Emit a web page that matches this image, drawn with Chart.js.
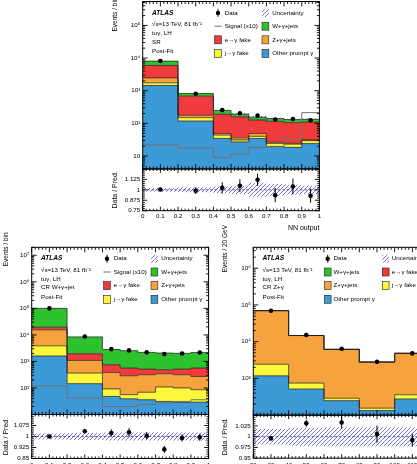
<!DOCTYPE html>
<html><head><meta charset="utf-8"><title>tuγ LH post-fit distributions</title>
<script src="https://cdn.jsdelivr.net/npm/chart.js@4.4.1/dist/chart.umd.min.js"></script>
<style>
html,body{margin:0;padding:0;background:#fff;}
body{position:relative;width:417px;height:464px;overflow:hidden;}
canvas{position:absolute;left:0;top:-10px;}
</style></head><body>
<canvas id="cSR" width="460" height="490"></canvas>
<canvas id="cW" width="460" height="490"></canvas>
<canvas id="cZ" width="460" height="490"></canvas>
<script>
const FONT = '"Liberation Sans", Arial, Helvetica, sans-serif';

// ===== SR (NN output) =====
const srEdges   = [0, 0.2, 0.4, 0.5, 0.6, 0.7, 0.8, 0.9, 1.0];
const srCenters = [0.1, 0.3, 0.45, 0.55, 0.65, 0.75, 0.85, 0.95];
const srPrompt  = [1440, 118, 34.5, 27, 34.5, 19.7, 18.4, 24];
const srJFake   = [300, 32, 9.1, 4, 5.5, 4.6, 4.6, 5.5];
const srZGam    = [730, 26, 5.4, 5, 9, 2.2, 1.5, 1.5];
const srEFake   = [3490, 505, 140, 122, 78, 88.5, 80.5, 79];
const srWGam    = [2100, 137, 60, 35, 28, 25, 26, 23];
const srSignal  = [22, 17.5, 9.1, 11.5, 18.4, 19, 34.5, 213];
const srData    = [8100, 810, 255, 203, 173, 131, 136, 124];
const srRatio   = [1.005, 0.99, 1.024, 1.05, 1.12, 0.936, 1.04, 0.93];
const srRatioErr= [0.012, 0.04, 0.068, 0.076, 0.074, 0.085, 0.095, 0.085];
const srUnc     = [0.022, 0.03, 0.04, 0.05, 0.085, 0.07, 0.06, 0.05];
const srXTicks  = [0, 0.1, 0.2, 0.3, 0.4, 0.5, 0.6, 0.7, 0.8, 0.9, 1];
const srXLabels = ['0','0.1','0.2','0.3','0.4','0.5','0.6','0.7','0.8','0.9','1'];
const srYTicks  = [10, 1e2, 1e3, 1e4, 1e5];
const srRTicks  = [0.75, 0.875, 1, 1.125];
const srRLabels = ['0.75','0.875','1','1.125'];

// ===== CR W+gamma+jet (NN output) =====
const wEdges    = [0, 0.2, 0.4, 0.5, 0.6, 0.7, 0.8, 0.9, 1.0];
const wCenters  = [0.1, 0.3, 0.45, 0.55, 0.65, 0.75, 0.85, 0.95];
const wPrompt   = [1600, 145, 48, 39, 36, 31, 29, 29];
const wJFake    = [2270, 220, 44, 17, 33, 78, 71, 57];
const wZGam     = [11630, 725, 293, 233, 247, 235, 216, 184];
const wEFake    = [4000, 850, 363, 274, 199, 142, 199, 293];
const wWGam     = [80500, 6460, 2082, 1967, 1675, 1584, 1505, 1617];
const wSignal   = [120, 42, 20, 20, 24, 27, 31, 36];
const wData     = [100000, 8700, 2900, 2600, 2200, 1890, 2000, 2170];
const wRatio    = [1.0, 1.036, 1.024, 1.029, 1.005, 0.912, 0.99, 0.995];
const wRatioErr = [0.006, 0.014, 0.025, 0.028, 0.025, 0.024, 0.024, 0.024];
const wUnc      = [0.02, 0.024, 0.027, 0.027, 0.028, 0.028, 0.028, 0.028];
const wXTicks   = [0, 0.1, 0.2, 0.3, 0.4, 0.5, 0.6, 0.7, 0.8, 0.9, 1];
const wXLabels  = ['0','0.1','0.2','0.3','0.4','0.5','0.6','0.7','0.8','0.9','1'];
const wYTicks   = [1e2, 1e3, 1e4, 1e5, 1e6, 1e7];
const wRTicks   = [0.85, 0.925, 1, 1.075];
const wRLabels  = ['0.85','0.925','1','1.075'];

// ===== CR Z+gamma (20 GeV bins) =====
const zEdges    = [20, 40, 60, 80, 100, 120];
const zCenters  = [30, 50, 70, 90, 110];
const zPrompt   = [1175, 515, 248, 133, 276];
const zJFake    = [1255, 231, 40, 22, 84];
const zZGam     = [67300, 13930, 5880, 2630, 4450];
const zEFake    = [150, 40, 18, 9, 15];
const zWGam     = [120, 34, 14, 6, 15];
const zData     = [69700, 15200, 6400, 2820, 4800];
const zRatio    = [0.996, 1.031, 1.033, 1.006, 0.992];
const zRatioErr = [0.003, 0.008, 0.014, 0.02, 0.015];
const zUnc      = [0.018, 0.021, 0.022, 0.022, 0.022];
const zXTicks   = [20, 30, 40, 50, 60, 70, 80, 90, 100, 110, 120];
const zXLabels  = ['20','30','40','50','60','70','80','90','100','110','120'];
const zYTicks   = [1e3, 1e4, 1e5, 1e6];
const zRTicks   = [0.95, 0.975, 1, 1.025];
const zRLabels  = ['0.95','0.975','1','1.025'];

const COL = {prompt:'#3d9ad6', jfake:'#fbf83c', zgam:'#f6a23d', efake:'#ef3b3b', wgam:'#2ec22e'};
const NAMES = {prompt:'Other prompt γ', jfake:'j→γ fake', zgam:'Z+γ+jets', efake:'e→γ fake', wgam:'W+γ+jets'};

Chart.defaults.color = '#000';
Chart.defaults.font.family = FONT;

function stepLine(edges, vals){
  const p = vals.map((v,i)=>({x:edges[i], y:v}));
  p.push({x:edges[edges.length-1], y:vals[vals.length-1]});
  return p;
}
function supLabel(v){
  const e = Math.round(Math.log10(v));
  const sup = {'0':'⁰','1':'¹','2':'²','3':'³','4':'⁴','5':'⁵','6':'⁶','7':'⁷','8':'⁸','9':'⁹'};
  return e === 1 ? '10' : '10' + String(e).split('').map(ch=>sup[ch]).join('');
}
function makeHatch(ctx){
  const s = 4, c = document.createElement('canvas'); c.width = s; c.height = s;
  const g = c.getContext('2d');
  g.strokeStyle = '#6464d8'; g.lineWidth = 0.9;
  g.beginPath();
  g.moveTo(0, s); g.lineTo(s, 0);
  g.moveTo(-1, 1); g.lineTo(1, -1);
  g.moveTo(s-1, s+1); g.lineTo(s+1, s-1);
  g.stroke();
  return ctx.createPattern(c, 'repeat');
}

const LEG_ROWS = [11.4, 24.7, 38.3, 52];
const ANN_ROWS = [23, 31.7, 40.3, 49.5];
const STEP = 'before';

function makeDeco(P, pat){
  return {
    id: 'deco_' + P.id,
    afterDatasetsDraw(chart){
      const c = chart.ctx, xs = chart.scales.x, yr = chart.scales.yr;
      c.save(); c.strokeStyle = '#000'; c.lineWidth = 1;
      c.beginPath();
      P.centers.forEach((cx,i)=>{
        const x = xs.getPixelForValue(cx);
        c.moveTo(x, yr.getPixelForValue(P.ratio[i] - P.ratioErr[i]));
        c.lineTo(x, yr.getPixelForValue(P.ratio[i] + P.ratioErr[i]));
      });
      c.stroke(); c.restore();
    },
    afterDraw(chart){
      const c = chart.ctx, a = chart.chartArea, xs = chart.scales.x, ys = chart.scales.y, yr = chart.scales.yr;
      c.save();
      c.strokeStyle = '#000'; c.lineWidth = 0.9;
      c.beginPath();
      const nx = Math.round((P.xMax - P.xMin) / P.xMinor);
      for (let k = 0; k <= nx; k++){
        const v = P.xMin + k * P.xMinor;
        const x = xs.getPixelForValue(v);
        const major = P.xTicks.some(t => Math.abs(t - v) < 1e-6);
        const L1 = major ? 5 : 2.5, L2 = major ? 4 : 2;
        c.moveTo(x, ys.bottom); c.lineTo(x, ys.bottom - L1);
        c.moveTo(x, ys.top); c.lineTo(x, ys.top + L1);
        c.moveTo(x, yr.bottom); c.lineTo(x, yr.bottom - L2);
        c.moveTo(x, yr.top); c.lineTo(x, yr.top + L2);
      }
      for (let e = Math.floor(Math.log10(P.yMin)); e <= Math.ceil(Math.log10(P.yMax)); e++){
        for (let m = 1; m <= 9; m++){
          const v = m * Math.pow(10, e);
          if (v < P.yMin * 0.999 || v > P.yMax) continue;
          const y = ys.getPixelForValue(v), L = m === 1 ? 5 : 2.5;
          c.moveTo(a.left, y); c.lineTo(a.left + L, y);
          c.moveTo(a.right, y); c.lineTo(a.right - L, y);
        }
      }
      const nr = Math.round((P.rMax - P.rMin) / P.rMinor);
      for (let k = 0; k <= nr; k++){
        const v = P.rMin + k * P.rMinor;
        const q = (v - P.rMin) / P.rMajor;
        const major = Math.abs(q - Math.round(q)) < 1e-6;
        const y = yr.getPixelForValue(v), L = major ? 4.5 : 2.2;
        c.moveTo(a.left, y); c.lineTo(a.left + L, y);
        c.moveTo(a.right, y); c.lineTo(a.right - L, y);
      }
      c.stroke();
      c.lineWidth = 1;
      c.strokeRect(a.left, ys.top, a.right - a.left, ys.bottom - ys.top);
      c.strokeRect(a.left, yr.top, a.right - a.left, yr.bottom - yr.top);

      // main y-axis title (rotated)
      c.save();
      c.fillStyle = '#000'; c.font = `6.5px ${FONT}`; c.textAlign = 'left'; c.textBaseline = 'middle';
      c.translate(P.titleX, a.top + P.yTitleEnd); c.rotate(-Math.PI / 2);
      c.fillText(P.yTitle, 0, 0);
      c.restore();

      // annotation
      c.fillStyle = '#000'; c.textBaseline = 'middle'; c.textAlign = 'left';
      c.font = `italic bold 6.6px ${FONT}`;
      c.fillText('ATLAS', a.left + 9.3, a.top + 11.2);
      c.font = `6.2px ${FONT}`;
      P.annot.forEach((t,i)=> c.fillText(t, a.left + 9.3, a.top + ANN_ROWS[i]));

      // legend
      P.legend.forEach(it=>{
        const col = P.legCols[it.col];
        const cx = a.left + col.sym, tx = a.left + col.txt, cy = a.top + LEG_ROWS[it.row];
        if (it.kind === 'data'){
          c.fillStyle = '#000';
          c.beginPath(); c.arc(cx, cy, 2.2, 0, Math.PI*2); c.fill();
          c.strokeStyle = '#000';
          c.beginPath(); c.lineWidth = 0.9; c.moveTo(cx, cy - 4); c.lineTo(cx, cy + 4); c.stroke();
        } else if (it.kind === 'line'){
          c.strokeStyle = '#707070'; c.lineWidth = 1;
          c.beginPath(); c.moveTo(cx - 3.6, cy); c.lineTo(cx + 3.6, cy); c.stroke();
        } else if (it.kind === 'hatch'){
          c.fillStyle = pat; c.fillRect(cx - 3.4, cy - 4, 6.8, 8);
        } else {
          c.fillStyle = it.color; c.fillRect(cx - 3.4, cy - 4, 6.8, 8);
          c.strokeStyle = '#222'; c.lineWidth = 0.6; c.strokeRect(cx - 3.4, cy - 4, 6.8, 8);
        }
        c.fillStyle = '#000';
        c.fillText(it.text, tx, cy);
      });
      c.restore();
    }
  };
}

function buildPanel(P){
  const canvas = document.getElementById(P.id);
  const ctx = canvas.getContext('2d');
  const pat = makeHatch(ctx);
  const OFF = 10, CW = 460, CH = 490;
  const W = P.frame.left - P.titleX + 1 + 4.2;
  const XH = P.xTitle ? 22 : 12;
  const pad = {left: P.frame.left - W, top: P.frame.top + OFF, right: CW - P.frame.right,
               bottom: CH - (P.frame.bottom + OFF) - XH};
  const ds = [];
  let run = P.comps[0].vals.map(()=>0);
  P.comps.forEach((cp,k)=>{
    run = run.map((v,i)=>v + cp.vals[i]);
    ds.push({label: NAMES[cp.key], data: stepLine(P.edges, run), yAxisID: 'y', stepped: STEP,
      fill: k === 0 ? 'start' : '-1', backgroundColor: COL[cp.key], borderColor: '#1c1c1c',
      borderWidth: 0.7, pointRadius: 0, order: 10});
  });
  const total = run.slice();
  if (P.signal){
    ds.push({label: 'Signal (x10)', data: stepLine(P.edges, P.signal), yAxisID: 'y', stepped: STEP,
      fill: false, borderColor: '#707070', borderWidth: 1, pointRadius: 0, order: 2});
  }
  // prediction uncertainty on the stack
  ds.push({label: 'unc-lo', data: stepLine(P.edges, total.map((t,i)=>t*(1-P.unc[i]))), yAxisID: 'y',
    stepped: STEP, fill: false, borderWidth: 0, pointRadius: 0, order: 3});
  ds.push({label: 'Uncertainty', data: stepLine(P.edges, total.map((t,i)=>t*(1+P.unc[i]))), yAxisID: 'y',
    stepped: STEP, fill: '-1', backgroundColor: pat, borderWidth: 0, pointRadius: 0, order: 3});
  // ratio band
  ds.push({label: 'r-lo', data: stepLine(P.edges, P.unc.map(u=>1-u)), yAxisID: 'yr',
    stepped: STEP, fill: false, borderWidth: 0, pointRadius: 0, order: 3});
  ds.push({label: 'r-hi', data: stepLine(P.edges, P.unc.map(u=>1+u)), yAxisID: 'yr',
    stepped: STEP, fill: '-1', backgroundColor: pat, borderWidth: 0, pointRadius: 0, order: 3});
  ds.push({label: 'one', data: [{x:P.xMin, y:1}, {x:P.xMax, y:1}], yAxisID: 'yr', fill: false,
    borderColor: '#3a3a88', borderWidth: 0.8, borderDash: [2.5, 2], pointRadius: 0, order: 2});
  ds.push({label: 'Data', data: P.centers.map((x,i)=>({x, y:P.data[i]})), yAxisID: 'y', showLine: false,
    pointRadius: 2.3, pointBackgroundColor: '#000', pointBorderWidth: 0, order: 0});
  ds.push({label: 'Data / Pred.', data: P.centers.map((x,i)=>({x, y:P.ratio[i]})), yAxisID: 'yr', showLine: false,
    pointRadius: 2.3, pointBackgroundColor: '#000', pointBorderWidth: 0, order: 0});

  const tickFont = {family: FONT, size: 6.2};
  const titleFont = {family: FONT, size: 7};
  new Chart(ctx, {
    type: 'line',
    data: {datasets: ds},
    options: {
      responsive: false, animation: false, events: [],
      layout: {padding: pad},
      plugins: {legend: {display: false}, tooltip: {enabled: false}, filler: {drawTime: 'beforeDatasetsDraw'}},
      scales: {
        x: {type: 'linear', position: 'bottom', min: P.xMin, max: P.xMax,
          grid: {display: false, drawTicks: false}, border: {display: false},
          ticks: {font: tickFont, color: '#000', padding: P.xPad, autoSkip: false, maxRotation: 0,
            callback: (v,i)=>P.xLabels[i]},
          afterBuildTicks: s=>{ s.ticks = P.xTicks.map(v=>({value:v})); },
          afterFit: s=>{ s.height = XH; },
          title: {display: !!P.xTitle, text: P.xTitle || '', align: 'end', font: titleFont, color: '#000',
            padding: {top: 0, bottom: 0.5}}
        },
        yr: {type: 'linear', position: 'left', stack: 'p', stackWeight: P.weights[1], weight: 1,
          min: P.rMin, max: P.rMax,
          grid: {display: false, drawTicks: false}, border: {display: false},
          ticks: {font: tickFont, color: '#000', padding: 2.5, autoSkip: false,
            callback: (v,i)=>P.rLabels[i]},
          afterBuildTicks: s=>{ s.ticks = P.rTicks.map(v=>({value:v})); },
          afterFit: s=>{ s.width = W; },
          title: {display: true, text: 'Data / Pred.', align: 'center', font: titleFont, color: '#000',
            padding: {top: 1, bottom: 0}}
        },
        y: {type: 'logarithmic', position: 'left', stack: 'p', stackWeight: P.weights[0], weight: 2,
          min: P.yMin, max: P.yMax,
          grid: {display: false, drawTicks: false}, border: {display: false},
          ticks: {font: tickFont, color: '#000', padding: 2.5, autoSkip: false,
            callback: v=>supLabel(v)},
          afterBuildTicks: s=>{ s.ticks = P.yTicks.map(v=>({value:v})); },
          afterFit: s=>{ s.width = W; },
          title: {display: false}
        }
      }
    },
    plugins: [makeDeco(P, pat)]
  });
}

const COLS_A = [{sym: 75.3, txt: 82}, {sym: 122.7, txt: 129.5}];
const COLS_B = [{sym: 74.4, txt: 80.2}, {sym: 132.4, txt: 138.5}];

buildPanel({
  id: 'cSR', frame: {left: 142.7, right: 319.4, top: 1.5, bottom: 210.7}, weights: [167.5, 41.7],
  titleX: 115.5, yTitleEnd: 30, xPad: 2.3,
  edges: srEdges, centers: srCenters,
  comps: [{key:'prompt', vals: srPrompt}, {key:'jfake', vals: srJFake}, {key:'zgam', vals: srZGam},
          {key:'efake', vals: srEFake}, {key:'wgam', vals: srWGam}],
  signal: srSignal, data: srData, ratio: srRatio, ratioErr: srRatioErr, unc: srUnc,
  xMin: 0, xMax: 1, xMinor: 0.02, xTicks: srXTicks, xLabels: srXLabels, xTitle: 'NN output',
  yMin: 4, yMax: 5.4e5, yTicks: srYTicks, yTitle: 'Events / bin',
  rMin: 0.75, rMax: 1.25, rMajor: 0.125, rMinor: 0.025, rTicks: srRTicks, rLabels: srRLabels,
  annot: ['√s=13 TeV, 81 fb⁻¹', 'tuγ, LH', 'SR', 'Post-Fit'],
  legCols: COLS_A,
  legend: [
    {kind:'data', text:'Data', col:0, row:0}, {kind:'hatch', text:'Uncertainty', col:1, row:0},
    {kind:'line', text:'Signal (x10)', col:0, row:1}, {kind:'box', color:COL.wgam, text:NAMES.wgam, col:1, row:1},
    {kind:'box', color:COL.efake, text:NAMES.efake, col:0, row:2}, {kind:'box', color:COL.zgam, text:NAMES.zgam, col:1, row:2},
    {kind:'box', color:COL.jfake, text:NAMES.jfake, col:0, row:3}, {kind:'box', color:COL.prompt, text:NAMES.prompt, col:1, row:3}
  ]
});

buildPanel({
  id: 'cW', frame: {left: 31.7, right: 208.6, top: 247.3, bottom: 458.5}, weights: [167.2, 44],
  titleX: 6.5, yTitleEnd: 19, xPad: 3.5,
  edges: wEdges, centers: wCenters,
  comps: [{key:'prompt', vals: wPrompt}, {key:'jfake', vals: wJFake}, {key:'zgam', vals: wZGam},
          {key:'efake', vals: wEFake}, {key:'wgam', vals: wWGam}],
  signal: wSignal, data: wData, ratio: wRatio, ratioErr: wRatioErr, unc: wUnc,
  xMin: 0, xMax: 1, xMinor: 0.02, xTicks: wXTicks, xLabels: wXLabels, xTitle: null,
  yMin: 10, yMax: 2e7, yTicks: wYTicks, yTitle: 'Events / bin',
  rMin: 0.85, rMax: 1.15, rMajor: 0.075, rMinor: 0.015, rTicks: wRTicks, rLabels: wRLabels,
  annot: ['√s=13 TeV, 81 fb⁻¹', 'tuγ, LH', 'CR W+γ+jet', 'Post-Fit'],
  legCols: COLS_A,
  legend: [
    {kind:'data', text:'Data', col:0, row:0}, {kind:'hatch', text:'Uncertainty', col:1, row:0},
    {kind:'line', text:'Signal (x10)', col:0, row:1}, {kind:'box', color:COL.wgam, text:NAMES.wgam, col:1, row:1},
    {kind:'box', color:COL.efake, text:NAMES.efake, col:0, row:2}, {kind:'box', color:COL.zgam, text:NAMES.zgam, col:1, row:2},
    {kind:'box', color:COL.jfake, text:NAMES.jfake, col:0, row:3}, {kind:'box', color:COL.prompt, text:NAMES.prompt, col:1, row:3}
  ]
});

buildPanel({
  id: 'cZ', frame: {left: 253.3, right: 430, top: 247.3, bottom: 458.2}, weights: [167.7, 43],
  titleX: 225, yTitleEnd: 25, xPad: 3.2,
  edges: zEdges, centers: zCenters,
  comps: [{key:'prompt', vals: zPrompt}, {key:'jfake', vals: zJFake}, {key:'zgam', vals: zZGam},
          {key:'efake', vals: zEFake}, {key:'wgam', vals: zWGam}],
  signal: null, data: zData, ratio: zRatio, ratioErr: zRatioErr, unc: zUnc,
  xMin: 20, xMax: 120, xMinor: 2, xTicks: zXTicks, xLabels: zXLabels, xTitle: null,
  yMin: 100, yMax: 3.7e6, yTicks: zYTicks, yTitle: 'Events / 20 GeV',
  rMin: 0.95, rMax: 1.05, rMajor: 0.025, rMinor: 0.005, rTicks: zRTicks, rLabels: zRLabels,
  annot: ['√s=13 TeV, 81 fb⁻¹', 'tuγ, LH', 'CR Z+γ', 'Post-Fit'],
  legCols: COLS_B,
  legend: [
    {kind:'data', text:'Data', col:0, row:0}, {kind:'hatch', text:'Uncertainty', col:1, row:0},
    {kind:'box', color:COL.wgam, text:NAMES.wgam, col:0, row:1}, {kind:'box', color:COL.efake, text:NAMES.efake, col:1, row:1},
    {kind:'box', color:COL.zgam, text:NAMES.zgam, col:0, row:2}, {kind:'box', color:COL.jfake, text:NAMES.jfake, col:1, row:2},
    {kind:'box', color:COL.prompt, text:NAMES.prompt, col:0, row:3}
  ]
});
</script></body></html>
